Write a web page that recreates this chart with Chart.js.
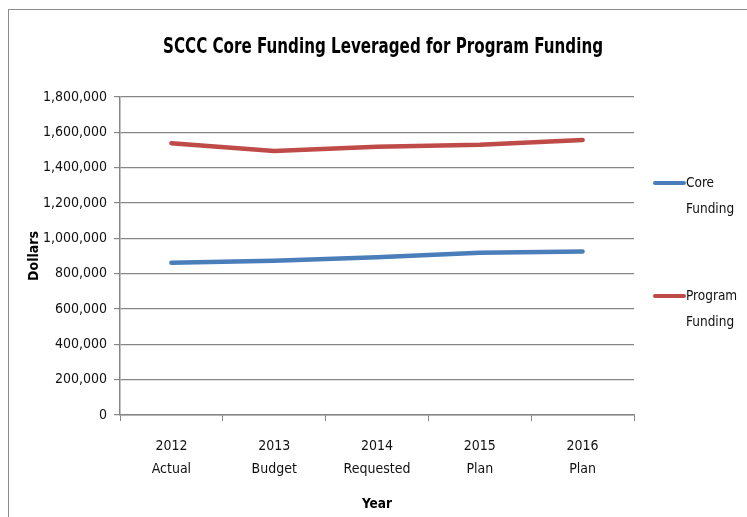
<!DOCTYPE html>
<html lang="en">
<head>
  <meta charset="UTF-8">
  <title>SCCC Core Funding Leveraged for Program Funding</title>
  <script src="https://cdn.jsdelivr.net/npm/chart.js"></script>
  <style>
    body { margin: 0; background: #fff; }
    .frame {
      position: absolute; left: 8px; top: 9px; width: 760px; height: 520px;
      border-left: 1px solid #8c8c8c; border-top: 1px solid #8c8c8c;
    }
    .wrap { position: absolute; left: 0; top: 0; width: 747px; height: 517px; }
  </style>
</head>
<body>
  <div class="frame"></div>
  <div class="wrap"><canvas id="fundingChart" width="747" height="517"></canvas></div>

  <script>
    // data
    const years = [['2012', 'Actual'], ['2013', 'Budget'], ['2014', 'Requested'], ['2015', 'Plan'], ['2016', 'Plan']];
    const coreFunding = [862000, 873000, 893000, 918000, 926000];
    const programFunding = [1538000, 1494000, 1519000, 1530000, 1556000];
    const yTicks = [0, 200000, 400000, 600000, 800000, 1000000, 1200000, 1400000, 1600000, 1800000];
    const chartTitle = 'SCCC Core Funding Leveraged for Program Funding';

    const FONT = "'DejaVu Sans Condensed', 'DejaVu Sans', sans-serif";
    const GRID = '#868686';

    // title + legend drawn by hand: the original uses a narrow face and wrapped legend labels
    const decorations = {
      id: 'decorations',
      afterDraw(chart) {
        const ctx = chart.ctx;
        ctx.save();
        // title, squeezed horizontally to match the narrow original
        ctx.font = 'bold 22px ' + FONT;
        ctx.fillStyle = '#000';
        ctx.textAlign = 'center';
        ctx.textBaseline = 'alphabetic';
        const sx = 440 / ctx.measureText(chartTitle).width;
        ctx.translate(383, 53);
        ctx.scale(sx, 1);
        ctx.fillText(chartTitle, 0, 0);
        ctx.restore();

        const items = [
          { color: '#4a7ebb', lines: ['Core', 'Funding'], y: 183 },
          { color: '#be4b48', lines: ['Program', 'Funding'], y: 296 }
        ];
        ctx.save();
        ctx.font = '13.5px ' + FONT;
        ctx.textBaseline = 'middle';
        ctx.fillStyle = '#111';
        items.forEach(it => {
          ctx.strokeStyle = it.color;
          ctx.lineWidth = 4;
          ctx.lineCap = 'round';
          ctx.beginPath();
          ctx.moveTo(655, it.y);
          ctx.lineTo(684, it.y);
          ctx.stroke();
          it.lines.forEach((t, i) => ctx.fillText(t, 686, it.y + i * 26));
        });
        ctx.restore();
      }
    };

    const ctx = document.getElementById('fundingChart').getContext('2d');
    new Chart(ctx, {
      type: 'line',
      data: {
        labels: years,
        datasets: [
          { label: 'Core Funding', data: coreFunding, borderColor: '#4a7ebb', backgroundColor: '#4a7ebb' },
          { label: 'Program Funding', data: programFunding, borderColor: '#be4b48', backgroundColor: '#be4b48' }
        ]
      },
      options: {
        responsive: false,
        animation: false,
        layout: { padding: { left: 0, right: 113, top: 97, bottom: 0 } },
        elements: {
          point: { radius: 0 },
          line: { borderWidth: 4.5, tension: 0, borderCapStyle: 'round' }
        },
        plugins: {
          legend: { display: false },
          tooltip: { enabled: false },
          title: { display: false }
        },
        scales: {
          x: {
            offset: true,
            afterFit: s => { s.height = 102; },
            grid: { display: true, drawOnChartArea: false, offset: true, tickLength: 6, color: GRID },
            border: { display: true, color: GRID, width: 1.5 },
            ticks: { color: '#111', padding: 13, maxRotation: 0, font: { family: FONT, size: 14, lineHeight: 1.7 } },
            title: {
              display: true, text: 'Year', color: '#000',
              font: { family: FONT, size: 13.5, weight: 'bold' },
              padding: { top: 0, bottom: 4 }
            }
          },
          y: {
            min: 0,
            max: 1800000,
            afterFit: s => { s.width = 120; },
            afterBuildTicks: s => { s.ticks = yTicks.map(v => ({ value: v })); },
            grid: { color: GRID, lineWidth: 1.2, tickLength: 6 },
            border: { display: true, color: GRID, width: 1.5 },
            ticks: {
              color: '#111', padding: 7,
              font: { family: FONT, size: 14 },
              callback: v => v.toLocaleString('en-US')
            },
            title: {
              display: true, text: 'Dollars', color: '#000',
              font: { family: FONT, size: 14, weight: 'bold' },
              padding: { top: 26, bottom: 0 }
            }
          }
        }
      },
      plugins: [decorations]
    });
  </script>
</body>
</html>
